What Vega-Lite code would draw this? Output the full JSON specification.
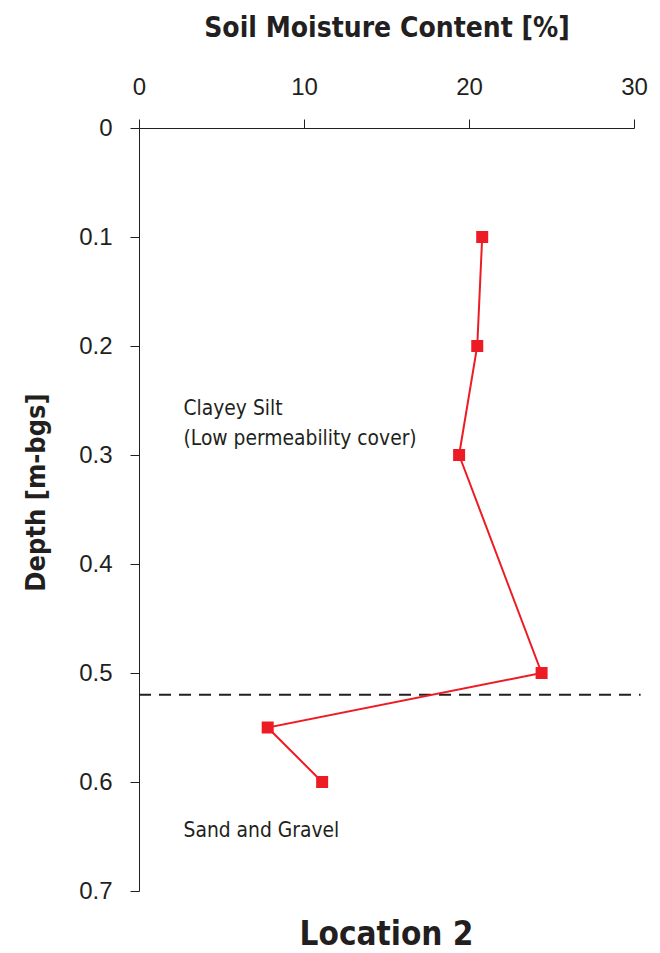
{
  "$schema": "https://vega.github.io/schema/vega-lite/v6.json",
  "width": 495,
  "height": 763,
  "autosize": {"type": "none"},
  "padding": {"left": 139, "top": 128, "right": 26, "bottom": 62},
  "background": "white",
  "title": {
    "text": "Location 2",
    "orient": "bottom",
    "anchor": "middle",
    "font": "'Liberation Sans Narrow', 'DejaVu Sans Condensed', 'Liberation Sans', sans-serif",
    "fontSize": 33,
    "fontWeight": "bold",
    "color": "#231f20",
    "offset": 16
  },
  "config": {
    "view": {"stroke": null},
    "font": "Liberation Sans",
    "axis": {
      "grid": false,
      "domainColor": "#231f20",
      "tickColor": "#231f20",
      "tickSize": 9,
      "labelColor": "#231f20",
      "labelFont": "Liberation Sans",
      "labelFontSize": 24,
      "labelFlush": false,
      "titleColor": "#231f20",
      "titleFont": "'Liberation Sans Narrow', 'DejaVu Sans Condensed', 'Liberation Sans', sans-serif",
      "titleFontWeight": "bold",
      "titleFontSize": 28
    }
  },
  "datasets": {
    "moisture": [
      {"moisture": 20.8, "depth": 0.1},
      {"moisture": 20.5, "depth": 0.2},
      {"moisture": 19.4, "depth": 0.3},
      {"moisture": 24.4, "depth": 0.5},
      {"moisture": 7.8, "depth": 0.55},
      {"moisture": 11.1, "depth": 0.6}
    ],
    "labels": [
      {"label": "Clayey Silt", "moisture": 2.7, "depth": 0.258},
      {"label": "(Low permeability cover)", "moisture": 2.7, "depth": 0.285},
      {"label": "Sand and Gravel", "moisture": 2.7, "depth": 0.645}
    ],
    "boundary": [
      {"x0": 0, "x1": 30.4, "depth": 0.52}
    ]
  },
  "encoding": {
    "x": {
      "field": "x0",
      "type": "quantitative",
      "scale": {"domain": [0, 30], "nice": false, "zero": false},
      "axis": {
        "orient": "top",
        "values": [0, 10, 20, 30],
        "title": "Soil Moisture Content [%]",
        "labelPadding": 20,
        "titlePadding": 33
      }
    },
    "y": {
      "field": "depth",
      "type": "quantitative",
      "scale": {"domain": [0, 0.7], "reverse": true, "nice": false},
      "axis": {
        "values": [0, 0.1, 0.2, 0.3, 0.4, 0.5, 0.6, 0.7],
        "format": ".1~f",
        "title": "Depth [m-bgs]",
        "titleFontSize": 27,
        "titleY": 364,
        "labelPadding": 18,
        "titlePadding": 28
      }
    }
  },
  "layer": [
    {
      "data": {"name": "boundary"},
      "mark": {"type": "rule", "strokeDash": [12, 8], "strokeWidth": 2, "color": "#231f20", "clip": false},
      "encoding": {
        "x2": {"field": "x1"}
      }
    },
    {
      "data": {"name": "moisture"},
      "mark": {"type": "line", "color": "#ED1C24", "strokeWidth": 2},
      "encoding": {
        "x": {"field": "moisture", "type": "quantitative"},
        "order": {"field": "depth", "type": "quantitative"}
      }
    },
    {
      "data": {"name": "moisture"},
      "mark": {"type": "point", "shape": "square", "filled": true, "size": 144, "color": "#ED1C24", "opacity": 1},
      "encoding": {
        "x": {"field": "moisture", "type": "quantitative"}
      }
    },
    {
      "data": {"name": "labels"},
      "mark": {"type": "text", "align": "left", "baseline": "middle", "fontSize": 20.8, "font": "'Liberation Sans Narrow', 'DejaVu Sans Condensed', 'Liberation Sans', sans-serif", "color": "#231f20"},
      "encoding": {
        "x": {"field": "moisture", "type": "quantitative"},
        "text": {"field": "label"}
      }
    }
  ]
}
